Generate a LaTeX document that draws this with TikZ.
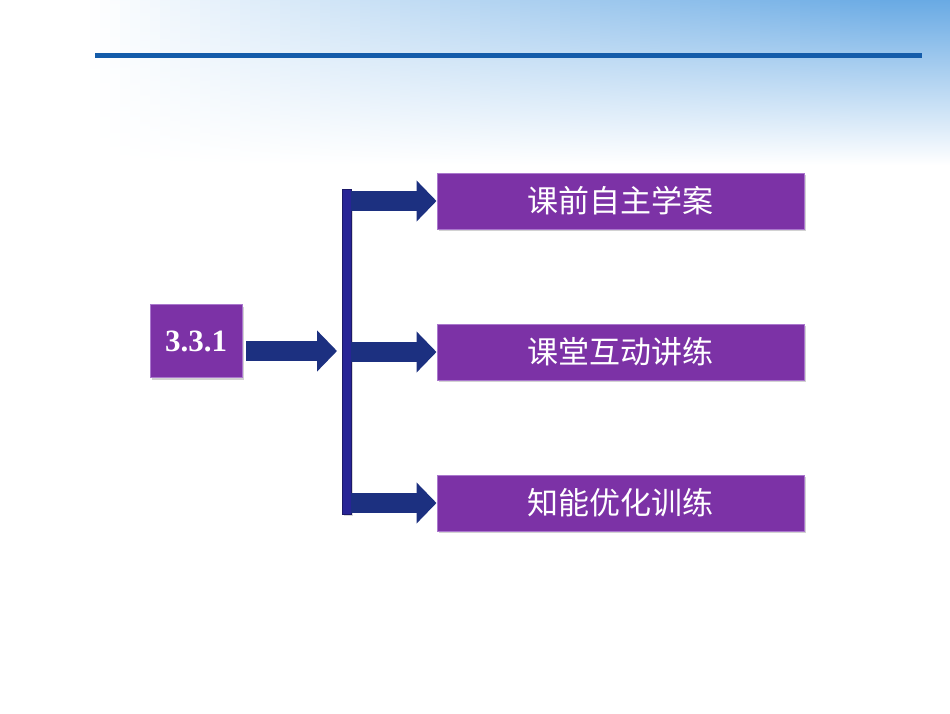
\documentclass[tikz,border=0pt]{standalone}
\usepackage{fontspec}
\setmainfont{Liberation Serif}
\newfontfamily\cjk{Noto Sans CJK SC}
\usetikzlibrary{arrows.meta,shadows}
\definecolor{boxpurple}{RGB}{124,50,166}
\definecolor{boxedge}{RGB}{170,120,205}
\definecolor{navy}{RGB}{28,48,128}
\definecolor{barblue}{RGB}{40,36,150}
\definecolor{topline}{RGB}{20,92,170}
\definecolor{skyblue}{RGB}{105,170,228}
\tikzset{
  purplebox/.style={draw=boxedge, line width=1pt, fill=boxpurple, text=white,
    inner sep=0pt, drop shadow={shadow xshift=2pt, shadow yshift=-2pt, opacity=0.35}},
  catbox/.style={purplebox, minimum width=367pt, minimum height=56pt,
    font=\cjk\fontsize{31}{31}\selectfont},
  bigarrow/.style={draw=navy, line width=20pt, line cap=butt,
    -{Triangle[width=40pt,length=20pt]}},
}
\begin{document}
\begin{tikzpicture}[x=1pt,y=-1pt]
\useasboundingbox (0,0) rectangle (950,713);
\fill[white] (0,0) rectangle (950,713);
\foreach \i in {0,...,94}{
  \pgfmathtruncatemacro{\p}{min(100,max(0,(\i-8)*1.25))}
  \shade[top color=skyblue!\p!white, bottom color=white, shading angle=0]
    (\i*10,0) rectangle (\i*10+10.5,165);
}
\draw[topline, line width=5pt] (95,55) -- (922,55);

\node[purplebox, minimum width=92pt, minimum height=73pt,
  font=\bfseries\fontsize{31}{31}\selectfont] (sec) at (196,341) {3.3.1};

\node[fill=barblue, draw=barblue!70!black, minimum width=9pt, minimum height=325pt, inner sep=0pt,
  drop shadow={shadow xshift=2pt, shadow yshift=-2pt, opacity=0.3}] (bar) at (346.5,351.5) {};

\node[catbox] (b1) at (620.5,201) {课前自主学案};
\node[catbox] (b2) at (620.5,352) {课堂互动讲练};
\node[catbox] (b3) at (620.5,503) {知能优化训练};

\coordinate (a0) at (246,351);
\coordinate (a0e) at (337,351);
\draw[bigarrow] (a0) -- (a0e);
\draw[bigarrow] (bar.east |- b1) -- (b1.west);
\draw[bigarrow] (bar.east |- b2) -- (b2.west);
\draw[bigarrow] (bar.east |- b3) -- (b3.west);
\end{tikzpicture}
\end{document}
